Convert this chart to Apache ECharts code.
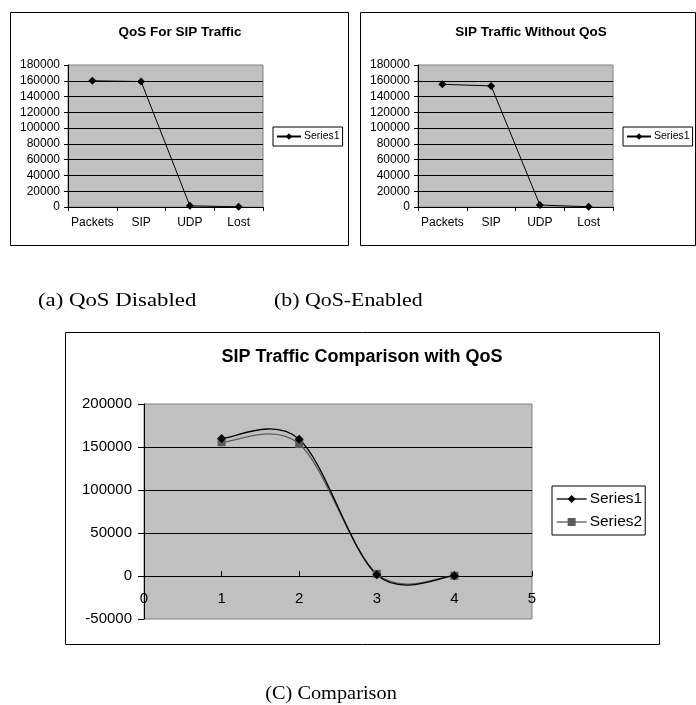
<!DOCTYPE html>
<html>
<head>
<meta charset="utf-8">
<script src="https://cdn.jsdelivr.net/npm/echarts@6/dist/echarts.min.js"></script>
<style>
  html, body { margin: 0; padding: 0; background: #fff; }
  #chart { width: 696px; height: 705px; }
</style>
</head>
<body>
<div id="chart"></div>
<script>
// values
const categories = ['Packets', 'SIP', 'UDP', 'Lost'];
const qosValues = [160000, 159000, 1500, 200];      // (a) QoS For SIP Traffic
const noQosValues = [155500, 153500, 2500, 300];    // (b) SIP Traffic Without QoS
const compareX = [1, 2, 3, 4];

const sansFont = '"Liberation Sans", Arial, sans-serif';
const serifFont = '"Liberation Serif", "Times New Roman", serif';

const plotBg = '#c0c0c0';
const s2Color = '#5a5a5a';

const chart = echarts.init(document.getElementById('chart'));

const plainNum = v => String(v);

function topGrid(left) {
  return {
    left: left, top: 65, width: 195, height: 142,
    show: true, backgroundColor: plotBg, borderColor: '#808080', borderWidth: 1
  };
}

function topXAxis(idx) {
  return {
    type: 'category', gridIndex: idx, data: categories, boundaryGap: true,
    axisLine: { lineStyle: { color: '#000', width: 1 } },
    axisTick: { show: true, length: 4, lineStyle: { color: '#000' } },
    axisLabel: { interval: 0, hideOverlap: false, color: '#000', fontSize: 12, fontFamily: sansFont, margin: 10 }
  };
}

function topYAxis(idx) {
  return {
    type: 'value', gridIndex: idx, min: 0, max: 180000, interval: 20000,
    axisLine: { show: true, lineStyle: { color: '#000', width: 1 } },
    axisTick: { show: true, length: 4, lineStyle: { color: '#000' } },
    axisLabel: { color: '#000', fontSize: 12, fontFamily: sansFont, margin: 8, formatter: plainNum },
    splitLine: { show: true, showMaxLine: false, lineStyle: { color: '#000', width: 1 } }
  };
}

function topLegend(left) {
  return {
    left: left, top: 127, orient: 'vertical',
    data: [{ name: 'Series1' }],
    borderColor: '#000', borderWidth: 1, padding: [4, 3, 4, 3],
    itemWidth: 24, itemHeight: 8, itemGap: 4,
    selectedMode: false,
    textStyle: { color: '#000', fontSize: 10.5, fontFamily: sansFont, padding: [0, 0, 0, -2] }
  };
}

// Excel style smoothed curve (Catmull-Rom), one bezier per segment, mapped through the axes
function smoothCurve(name, xs, ys, color, width) {
  return {
    name: name + ' curve', type: 'custom', coordinateSystem: 'cartesian2d',
    xAxisIndex: 2, yAxisIndex: 2, z: 1, silent: true,
    encode: { x: 0, y: 1 },
    data: xs.slice(0, -1).map((x, i) => [x, ys[i]]),
    renderItem: function (params, api) {
      const i = params.dataIndex;
      const n = xs.length;
      const p = k => api.coord([xs[Math.max(0, Math.min(n - 1, k))], ys[Math.max(0, Math.min(n - 1, k))]]);
      const p0 = p(i - 1), p1 = p(i), p2 = p(i + 1), p3 = p(i + 2);
      return {
        type: 'bezierCurve',
        shape: {
          x1: p1[0], y1: p1[1], x2: p2[0], y2: p2[1],
          cpx1: p1[0] + (p2[0] - p0[0]) / 6, cpy1: p1[1] + (p2[1] - p0[1]) / 6,
          cpx2: p2[0] - (p3[0] - p1[0]) / 6, cpy2: p2[1] - (p3[1] - p1[1]) / 6
        },
        style: { fill: null, stroke: color, lineWidth: width }
      };
    }
  };
}

function frame(x, y, w, h) {
  return {
    type: 'rect', silent: true,
    shape: { x: x, y: y, width: w, height: h },
    style: { fill: null, stroke: '#000', lineWidth: 1 }
  };
}

function caption(text, x, y, align, size, sx) {
  return {
    type: 'text', silent: true, x: x, y: y, scaleX: sx,
    style: {
      text: text, fill: '#000', font: size + 'px ' + serifFont,
      textAlign: align, textVerticalAlign: 'middle'
    }
  };
}

const option = {
  animation: false,
  backgroundColor: '#fff',
  title: [
    { text: 'QoS For SIP Traffic', left: 180, top: 25, padding: 0, textAlign: 'center',
      textStyle: { fontSize: 13.5, fontWeight: 'bold', color: '#000', fontFamily: sansFont } },
    { text: 'SIP Traffic Without QoS', left: 531, top: 25, padding: 0, textAlign: 'center',
      textStyle: { fontSize: 13.5, fontWeight: 'bold', color: '#000', fontFamily: sansFont } },
    { text: 'SIP Traffic Comparison with QoS', left: 362, top: 348, padding: 0, textAlign: 'center',
      textStyle: { fontSize: 18, fontWeight: 'bold', color: '#000', fontFamily: sansFont } }
  ],
  legend: [
    topLegend(273),
    topLegend(623),
    {
      left: 552, top: 486, orient: 'vertical',
      data: [
        { name: 'Series1', lineStyle: { opacity: 1, color: '#000', width: 1.3 } },
        { name: 'Series2', lineStyle: { opacity: 1, color: s2Color, width: 1.3 } }
      ],
      borderColor: '#000', borderWidth: 1, padding: [5, 3, 5, 4],
      itemWidth: 30, itemHeight: 10, itemGap: 7,
      selectedMode: false,
      textStyle: { color: '#000', fontSize: 15.5, fontFamily: sansFont, padding: [0, 0, 0, -2] }
    }
  ],
  grid: [
    topGrid(68),
    topGrid(418),
    { left: 144, top: 404, width: 388, height: 215,
      show: true, backgroundColor: plotBg, borderColor: '#808080', borderWidth: 1 }
  ],
  xAxis: [
    topXAxis(0),
    topXAxis(1),
    {
      // axis drawn through y = 0 (215px plot, -50000..200000)
      type: 'value', gridIndex: 2, min: 0, max: 5, interval: 1,
      offset: -43,
      axisLine: { onZero: false, lineStyle: { color: '#000', width: 1 } },
      axisTick: { show: true, inside: true, length: 5, lineStyle: { color: '#000' } },
      axisLabel: { color: '#000', fontSize: 15, fontFamily: sansFont, margin: 15 },
      splitLine: { show: false }
    }
  ],
  yAxis: [
    topYAxis(0),
    topYAxis(1),
    {
      type: 'value', gridIndex: 2, min: -50000, max: 200000, interval: 50000,
      axisLine: { show: true, onZero: false, lineStyle: { color: '#000', width: 1 } },
      axisTick: { show: true, length: 6, lineStyle: { color: '#000' } },
      axisLabel: { color: '#000', fontSize: 15, fontFamily: sansFont, margin: 12, formatter: plainNum },
      splitLine: { show: true, showMinLine: false, showMaxLine: false, lineStyle: { color: '#000', width: 1 } }
    }
  ],
  series: [
    {
      name: 'Series1', type: 'line', xAxisIndex: 0, yAxisIndex: 0,
      data: qosValues,
      symbol: 'diamond', symbolSize: 8,
      lineStyle: { color: '#000', width: 1 }, itemStyle: { color: '#000' }
    },
    {
      name: 'Series1', type: 'line', xAxisIndex: 1, yAxisIndex: 1,
      data: noQosValues,
      symbol: 'diamond', symbolSize: 8,
      lineStyle: { color: '#000', width: 1 }, itemStyle: { color: '#000' }
    },
    smoothCurve('Series2', compareX, noQosValues, s2Color, 1.3),
    smoothCurve('Series1', compareX, qosValues, '#000', 1.3),
    {
      name: 'Series2', type: 'line', xAxisIndex: 2, yAxisIndex: 2, z: 3,
      data: compareX.map((x, i) => [x, noQosValues[i]]),
      symbol: 'rect', symbolSize: 8,
      lineStyle: { color: s2Color, width: 1.3, opacity: 0 }, itemStyle: { color: s2Color }
    },
    {
      name: 'Series1', type: 'line', xAxisIndex: 2, yAxisIndex: 2, z: 4,
      data: compareX.map((x, i) => [x, qosValues[i]]),
      symbol: 'diamond', symbolSize: 9,
      lineStyle: { color: '#000', width: 1.3, opacity: 0 }, itemStyle: { color: '#000' }
    }
  ],
  graphic: [
    frame(10.5, 12.5, 338, 233),
    frame(360.5, 12.5, 335, 233),
    frame(65.5, 332.5, 594, 312),
    caption('(a) QoS Disabled', 38, 301, 'left', 19, 1.2),
    caption('(b) QoS-Enabled', 274, 301, 'left', 19, 1.15),
    caption('(C) Comparison', 331, 694, 'center', 18, 1.13)
  ]
};

chart.setOption(option);
</script>
</body>
</html>
